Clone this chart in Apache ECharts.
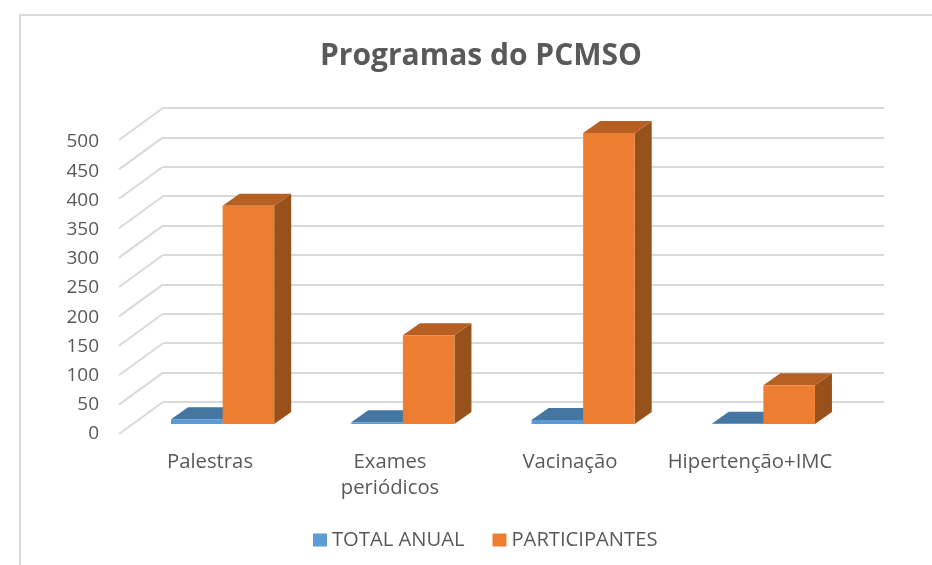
<!DOCTYPE html>
<html><head><meta charset="utf-8">
<style>html,body{margin:0;padding:0;background:#fff}#c{width:932px;height:565px}</style>
<script src="https://cdn.jsdelivr.net/npm/echarts@6/dist/echarts.min.js"></script>
</head><body><div id="c"></div>
<script>
const categories = ['Palestras', 'Exames\nperiódicos', 'Vacinação', 'Hipertenção+IMC'];
const totalAnual = [8, 3, 7, 0.5];
const participantes = [371, 151, 495, 66];
const ticks = [0, 50, 100, 150, 200, 250, 300, 350, 400, 450, 500];
const WALL = { dx: 44, dy: 32 };      // depth of the floor
const BAR = { dx: 17, dy: 12 };       // depth of one bar
const SHIFT = { x: -30.5, y: 22 };    // bar front plane vs. back wall
const BARW = 51.5 / 180;
const GREY = '#d9d9d9', TXT = '#595959';
const FF = '"Open Sans"';

function barRenderer(side, front, top, right) {
  return function (params, api) {
    const p = api.coord([api.value(0), api.value(1)]);
    const b = api.coord([api.value(0), 0]);
    const w = api.size([1, 0])[0] * BARW;
    const xc = p[0] + SHIFT.x;
    const x0 = side < 0 ? xc - w : xc, x1 = x0 + w;
    const yt = p[1] + SHIFT.y, yb = b[1] + SHIFT.y;
    const poly = (points, fill) => ({ type: 'polygon', shape: { points: points }, style: { fill: fill } });
    return { type: 'group', children: [
      poly([[x1, yb], [x1 + BAR.dx, yb - BAR.dy], [x1 + BAR.dx, yt - BAR.dy], [x1, yt]], right),
      poly([[x0, yt], [x0 + BAR.dx, yt - BAR.dy], [x1 + BAR.dx, yt - BAR.dy], [x1, yt]], top),
      poly([[x0, yb], [x1, yb], [x1, yt], [x0, yt]], front)
    ] };
  };
}
const chart = echarts.init(document.getElementById('c'), null, { renderer: 'canvas' });
chart.setOption({
  backgroundColor: '#fff',
  animation: false,
  title: { text: 'Programas do PCMSO', left: 476, top: 36, textAlign: 'center',
    textStyle: { fontFamily: FF, fontSize: 30, fontWeight: 'bold', color: TXT } },
  legend: { data: ['TOTAL ANUAL', 'PARTICIPANTES'], left: 308, top: 525, icon: 'rect', itemWidth: 14, itemHeight: 13,
    itemGap: 28, itemStyle: { borderWidth: 0 }, textStyle: { fontFamily: FF, fontSize: 20.2, color: TXT } },
  graphic: [
    { type: 'polyline', shape: { points: [[20, 565], [20, 15], [932, 15]] }, style: { stroke: GREY, lineWidth: 2, fill: null }, silent: true }
  ],
  grid: [
    { left: 163, right: 48, top: 108, bottom: 163 },
    { left: 120, right: 92, top: 142, bottom: 131 }
  ],
  xAxis: [
    { gridIndex: 0, type: 'category', data: categories, axisLine: { show: false }, axisTick: { show: false }, axisLabel: { show: false }, splitLine: { show: false } },
    { gridIndex: 1, type: 'category', data: categories, axisLine: { show: false }, axisTick: { show: false }, splitLine: { show: false },
      axisLabel: { interval: 0, margin: 15, lineHeight: 26, fontFamily: FF, fontSize: 20.3, color: TXT } }
  ],
  yAxis: [
    { gridIndex: 0, type: 'value', min: 0, max: 500, interval: 50, axisLine: { show: false }, axisTick: { show: false }, axisLabel: { show: false },
      splitLine: { lineStyle: { color: GREY, width: 2 } } },
    { gridIndex: 1, type: 'value', min: 0, max: 500, interval: 50, axisLine: { show: false }, axisTick: { show: false }, splitLine: { show: false },
      axisLabel: { margin: 21, fontFamily: FF, fontSize: 19, color: TXT } }
  ],
  series: [
    { type: 'custom', name: 'wall', xAxisIndex: 0, yAxisIndex: 0, silent: true, data: ticks.map(t => [0, t]), encode: { x: 0, y: 1 },
      renderItem: function (params, api) {
        const y = api.coord([0, api.value(1)])[1], x = params.coordSys.x;
        return { type: 'line', shape: { x1: x, y1: y, x2: x - WALL.dx, y2: y + WALL.dy }, style: { stroke: GREY, lineWidth: 2 } };
      } },
    { type: 'custom', name: 'TOTAL ANUAL', xAxisIndex: 0, yAxisIndex: 0, itemStyle: { color: '#5b9bd5' }, encode: { x: 0, y: 1 },
      data: totalAnual.map((v, i) => [i, v]), renderItem: barRenderer(-1, '#5b9bd5', '#4575a1', '#35618a') },
    { type: 'custom', name: 'PARTICIPANTES', xAxisIndex: 0, yAxisIndex: 0, itemStyle: { color: '#ed7d31' }, encode: { x: 0, y: 1 },
      data: participantes.map((v, i) => [i, v]), renderItem: barRenderer(1, '#ed7d31', '#b55f22', '#98511b') }
  ]
});
</script></body></html>
